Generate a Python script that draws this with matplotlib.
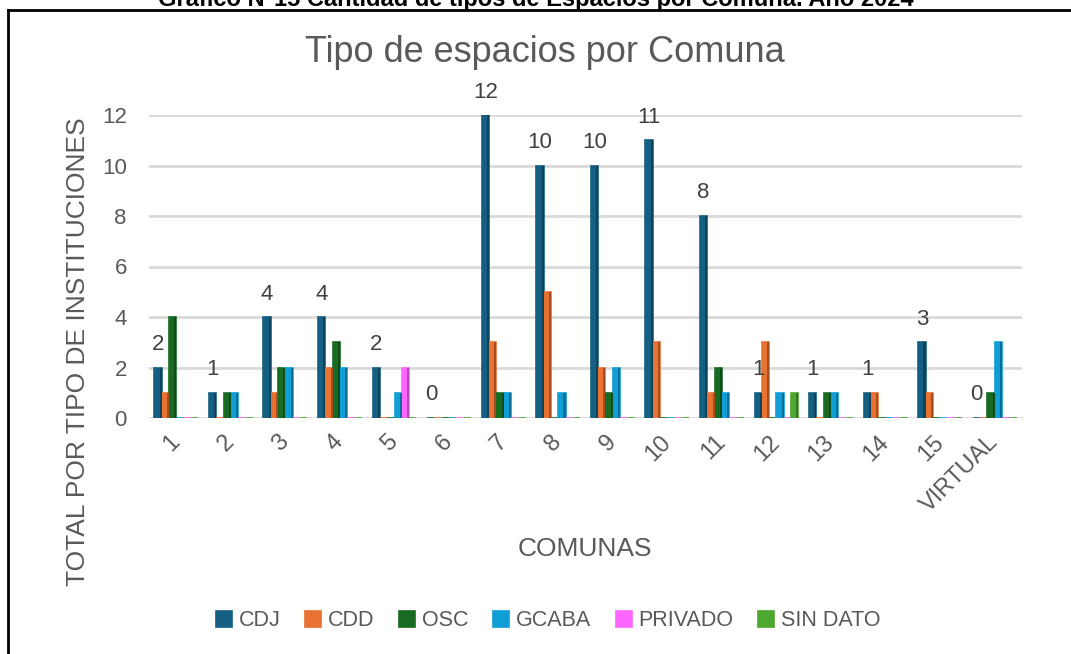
import numpy as np
import matplotlib
matplotlib.use("Agg")
import matplotlib.pyplot as plt
import matplotlib.colors as mcolors

plt.rcParams['font.family'] = ['Liberation Sans', 'DejaVu Sans']

# datos del grafico
comunas = ['1', '2', '3', '4', '5', '6', '7', '8', '9', '10', '11', '12', '13', '14', '15', 'VIRTUAL']
cdj = [2, 1, 4, 4, 2, 0, 12, 10, 10, 11, 8, 1, 1, 1, 3, 0]
cdd = [1, 0, 1, 2, 0, 0, 3, 5, 2, 3, 1, 3, 0, 1, 1, 0]
osc = [4, 1, 2, 3, 0, 0, 1, 0, 1, 0, 2, 0, 1, 0, 0, 1]
gcaba = [0, 1, 2, 2, 1, 0, 1, 1, 2, 0, 1, 1, 1, 0, 0, 3]
privado = [0, 0, 0, 0, 2, 0, 0, 0, 0, 0, 0, 0, 0, 0, 0, 0]
sin_dato = [0, 0, 0, 0, 0, 0, 0, 0, 0, 0, 0, 1, 0, 0, 0, 0]

series = [('CDJ', cdj, '#156082'), ('CDD', cdd, '#E97132'), ('OSC', osc, '#196B24'),
          ('GCABA', gcaba, '#0F9ED5'), ('PRIVADO', privado, '#FF66FF'),
          ('SIN DATO', sin_dato, '#4EA72E')]

def oscurecer(c, f=0.7):
    r, g, b = mcolors.to_rgb(c)
    return (r * f, g * f, b * f)

gris = '#595959'
W, H = 1071, 654
fig = plt.figure(figsize=(W / 100, H / 100), dpi=100)

# marco del documento (solo borde izq y superior)
fig.add_artist(plt.Line2D([8 / W, 8 / W], [0, 1 - 10 / H], color='black', lw=2))
fig.add_artist(plt.Line2D([8 / W, 1], [1 - 10 / H, 1 - 10 / H], color='black', lw=2))
fig.text(0.5, 1 - 6 / H, 'Gráfico N°15 Cantidad de tipos de Espacios por Comuna. Año 2024',
         ha='center', va='baseline', fontsize=17, fontweight='bold', color='black')

ax = fig.add_axes([149 / W, 1 - 418 / H, (1022 - 149) / W, (418 - 115) / H])
x = np.arange(len(comunas))
w = 0.134
for k, (nombre, vals, col) in enumerate(series):
    pos = x + (k - 2.5) * w
    ax.bar(pos, vals, w, color=col, edgecolor=col, linewidth=1.2, label=nombre, zorder=3)
    # lado oscuro (efecto 3D)
    ax.bar(pos + w * 0.36, vals, w * 0.28, color=oscurecer(col), linewidth=0, zorder=4)

for xi, v in zip(x, cdj):
    ax.annotate(str(v), (xi - 2.5 * w, v), xytext=(0, 9), textcoords='offset points',
                ha='center', va='bottom', fontsize=16, color='#404040', annotation_clip=False)

ax.set_ylim(0, 12)
ax.set_xlim(-0.5, len(comunas) - 0.5)
ax.set_yticks(range(0, 13, 2))
ax.yaxis.grid(True, color='#D9D9D9', lw=2, zorder=0)
ax.set_axisbelow(True)
for s in ax.spines.values():
    s.set_visible(False)
ax.tick_params(axis='both', length=0, labelsize=16, colors=gris)
ax.tick_params(axis='y', pad=16)
ax.set_xticks(x)
ax.set_xticklabels(comunas, rotation=45, ha='right', va='center', rotation_mode='anchor',
                   fontsize=17)
ax.tick_params(axis='x', pad=15)

fig.text(585 / W, 1 - 549 / H, 'COMUNAS', ha='center', va='center', fontsize=19, color=gris)
fig.text(78 / W, 1 - 352 / H, 'TOTAL POR TIPO DE INSTITUCIONES', ha='center', va='center',
         rotation=90, fontsize=19, color=gris)
fig.text(545 / W, 1 - 53 / H, 'Tipo de espacios por Comuna', ha='center', va='center',
         fontsize=26, color=gris)

handles, labels = ax.get_legend_handles_labels()
fig.legend(handles, labels, loc='center', bbox_to_anchor=(548 / W, 1 - 621 / H), ncol=6,
           frameon=False, fontsize=15.5, labelcolor=gris, handlelength=0.75, handleheight=0.75,
           handletextpad=0.3, columnspacing=1.15)

fig.savefig('out.png', dpi=100)
